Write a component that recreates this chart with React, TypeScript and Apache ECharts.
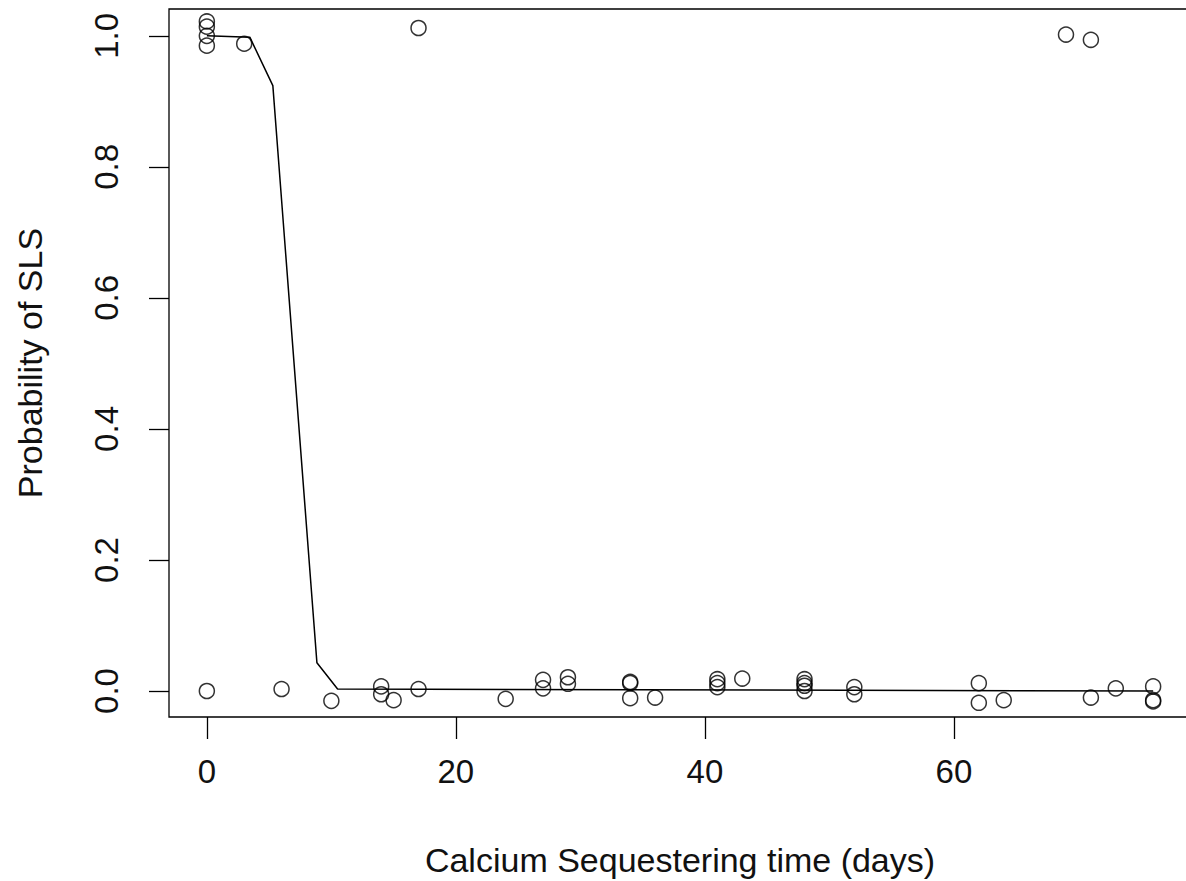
import React, { useEffect, useRef } from "react";
import * as echarts from "echarts";

// Observed points (days, probability of SLS, jittered as in the reference)
const pointDays = [0, 0, 0, 0, 0, 3, 6, 10, 14, 14, 15, 17, 17, 24, 27, 27, 29, 29, 34, 34, 34, 36, 41, 41, 41, 43, 48, 48, 48, 48, 52, 52, 62, 62, 64, 69, 71, 71, 73, 76, 76, 76];
const pointProb = [1.022, 1.014, 1.0, 0.985, 0.0, 0.988, 0.003, -0.015, 0.007, -0.005, -0.014, 1.012, 0.003, -0.012, 0.017, 0.004, 0.021, 0.011, 0.014, 0.012, -0.011, -0.01, 0.018, 0.012, 0.006, 0.019, 0.018, 0.012, 0.008, 0.0, 0.006, -0.005, 0.012, -0.018, -0.014, 1.002, 0.994, -0.01, 0.004, 0.007, -0.014, -0.016];

// Fitted curve
const curveDays = [0, 3.45, 5.3, 8.84, 10.5, 76];
const curveProb = [1.0, 0.998, 0.924, 0.043, 0.003, 0.0];

const xTicks = [0, 20, 40, 60];
const yTicks = [0, 0.2, 0.4, 0.6, 0.8, 1.0];

const FONT = "Liberation Sans, Arial, Helvetica, sans-serif";

export default function App() {
  const ref = useRef<HTMLDivElement>(null);
  useEffect(() => {
    document.body.style.margin = "0";
    const chart = echarts.init(ref.current!, null, { renderer: "svg" });
    chart.setOption({
      animation: false,
      backgroundColor: "#fff",
      textStyle: { fontFamily: FONT },
      grid: {
        left: 169,
        top: 9,
        width: 1022,
        height: 708,
        show: true,
        borderColor: "#000",
        borderWidth: 1.3,
        backgroundColor: "transparent",
        containLabel: false,
        outerBoundsMode: "none",
      },
      xAxis: {
        type: "value",
        min: -3.04,
        max: 79.04,
        name: "Calcium Sequestering time (days)",
        nameLocation: "middle",
        nameGap: 126,
        nameTextStyle: { fontSize: 34, color: "#111", fontFamily: FONT },
        axisLine: { show: false, onZero: false },
        splitLine: { show: false },
        axisTick: {
          show: true,
          length: 22,
          customValues: xTicks,
          lineStyle: { color: "#000", width: 1.3 },
        },
        axisLabel: {
          customValues: xTicks,
          fontSize: 33,
          color: "#111",
          margin: 38,
          fontFamily: FONT,
        },
      },
      yAxis: {
        type: "value",
        min: -0.0397,
        max: 1.041,
        name: "Probability of SLS",
        nameLocation: "middle",
        nameGap: 122,
        nameRotate: 90,
        nameTextStyle: { fontSize: 34, color: "#111", fontFamily: FONT },
        axisLine: { show: false, onZero: false },
        splitLine: { show: false },
        axisTick: {
          show: true,
          length: 20,
          customValues: yTicks,
          lineStyle: { color: "#000", width: 1.3 },
        },
        axisLabel: {
          customValues: yTicks,
          rotate: 90,
          fontSize: 33,
          color: "#111",
          margin: 46,
          fontFamily: FONT,
          formatter: (v: number) => v.toFixed(1),
        },
      },
      series: [
        {
          type: "line",
          data: curveDays.map((d, i) => [d, curveProb[i]]),
          showSymbol: false,
          lineStyle: { color: "#000", width: 1.5 },
          z: 2,
        },
        {
          type: "scatter",
          data: pointDays.map((d, i) => [d, pointProb[i]]),
          symbol: "circle",
          symbolSize: 15,
          itemStyle: { color: "transparent", borderColor: "#000", borderWidth: 1.5 },
          z: 3,
        },
      ],
    });
    return () => chart.dispose();
  }, []);
  return (
    <div
      ref={ref}
      style={{ position: "absolute", left: 0, top: 0, width: 1186, height: 881 }}
    />
  );
}
